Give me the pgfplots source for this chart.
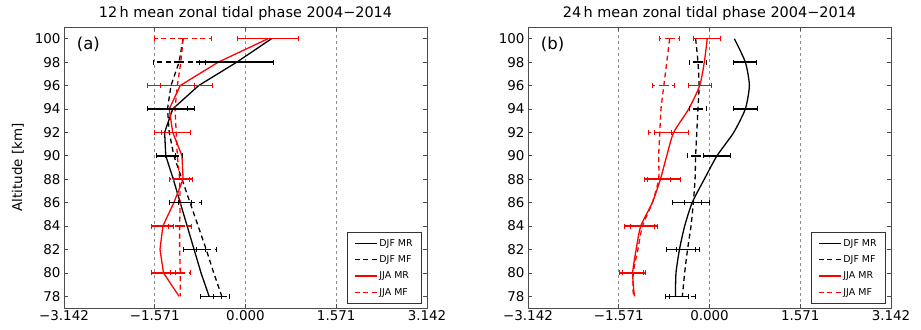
\documentclass[border=0pt]{standalone}
\usepackage{fontspec}
\setmainfont{DejaVu Sans}
\usepackage{pgfplots}
\pgfplotsset{compat=1.18}
\begin{document}
\begin{tikzpicture}
\path[use as bounding box] (0bp,0bp) rectangle (921bp,330bp);
\pgfplotsset{
  myax/.style={
    at={(#1,22bp)}, anchor=south west, scale only axis,
    width=363bp, height=281bp,
    xmin=-3.142, xmax=3.142, ymin=77, ymax=101,
    xtick={-3.142,-1.571,0,1.571,3.142},
    xticklabels={−3.142,−1.571,0.000,1.571,3.142},
    ytick={78,80,...,100},
    /pgf/number format/assume math mode=true,
    tick align=inside, major tick length=4bp,
    tick style={black!70, line width=0.6bp},
    xmajorgrids,
    major grid style={black!45, dash pattern=on 3bp off 3bp, line width=0.7bp},
    tick label style={font=\fontsize{13.5}{14}\selectfont},
    xticklabel style={yshift=1bp},
    axis line style={line width=0.8bp, black!70},
    legend style={at={(1,0)}, anchor=south east, xshift=-5bp, yshift=4bp,
      font=\fontsize{9.5}{10}\selectfont, draw=black!80, line width=0.6bp,
      row sep=4bp, inner xsep=7bp, inner ysep=5bp, cells={anchor=west}},
    legend image code/.code={\draw[##1, line width=1.4bp] (0bp,0bp) -- (22bp,0bp);},
    title style={font=\fontsize{14.5}{15}\selectfont, yshift=-3bp},
  },
  ln/.style={line width=1.3bp},
  dsh/.style={line width=1.3bp, dash pattern=on 5bp off 3.5bp},
  eb/.style={draw=none, forget plot, error bars/.cd, x dir=both, x explicit,
    error bar style={line width=1.5bp, draw=#1, solid},
    error mark options={rotate=90, mark size=2.5bp, line width=1bp, draw=#1, solid}},
  ebd/.style={draw=none, forget plot, error bars/.cd, x dir=both, x explicit,
    error bar style={line width=1.5bp, draw=#1, dash pattern=on 5bp off 3.5bp},
    error mark options={rotate=90, mark size=2.5bp, line width=1bp, draw=#1, solid}},
}
% ---------------- panel (a)
\begin{axis}[myax=64bp, title={12\,h mean zonal tidal phase 2004−2014},
  ylabel={Altitude [km]}, ylabel style={font=\fontsize{13.5}{14}\selectfont, yshift=4bp}]
\addplot[black, ln] coordinates {(0.45,100) (-0.15,98) (-0.81,96) (-1.26,94) (-1.40,92) (-1.38,90) (-1.25,88) (-1.13,86) (-1.01,84) (-0.89,82) (-0.77,80) (-0.63,78)};
\addlegendentry{DJF MR}
\addplot[black, dsh] coordinates {(-1.08,100) (-1.15,98) (-1.29,96) (-1.35,94) (-1.32,92) (-1.24,90) (-1.10,88) (-0.96,86) (-0.82,84) (-0.68,82) (-0.55,80) (-0.41,78)};
\addlegendentry{DJF MF}
\addplot[red, ln] coordinates {(0.39,100) (-0.47,98) (-1.13,96) (-1.32,94) (-1.26,92) (-1.10,90) (-1.08,88) (-1.24,86) (-1.43,84) (-1.48,82) (-1.42,80) (-1.15,78)};
\addlegendentry{JJA MR}
\addplot[red, dsh] coordinates {(-1.08,100) (-1.12,98) (-1.18,96) (-1.22,94) (-1.20,92) (-1.18,90) (-1.14,88) (-1.13,86) (-1.14,84) (-1.14,82) (-1.13,80) (-1.13,78)};
\addlegendentry{JJA MF}
\addplot[eb=black] coordinates {(-0.15,98) +- (0.64,0) (-1.29,94) +- (0.40,0) (-1.38,90) +- (0.16,0) (-1.13,86) +- (0.19,0) (-0.89,82) +- (0.19,0) (-0.60,78) +- (0.18,0)};
\addplot[ebd=black] coordinates {(-1.15,98) +- (0.45,0) (-1.35,94) +- (0.35,0) (-1.24,90) +- (0.15,0) (-0.96,86) +- (0.20,0) (-0.68,82) +- (0.17,0) (-0.41,78) +- (0.14,0)};
\addplot[eb=red] coordinates {(0.39,100) +- (0.53,0) (-1.13,96) +- (0.56,0) (-1.26,92) +- (0.31,0) (-1.08,88) +- (0.17,0) (-1.43,84) +- (0.19,0) (-1.42,80) +- (0.20,0)};
\addplot[ebd=red] coordinates {(-1.08,100) +- (0.50,0) (-1.18,96) +- (0.30,0) (-1.20,92) +- (0.25,0) (-1.14,88) +- (0.17,0) (-1.14,84) +- (0.20,0) (-1.13,80) +- (0.17,0)};
\node[anchor=north west, inner sep=0pt, font=\fontsize{16.5}{17}\selectfont] at (rel axis cs:0.035,0.965) {(a)};
\end{axis}
% ---------------- panel (b)
\begin{axis}[myax=528bp, title={24\,h mean zonal tidal phase 2004−2014}]
\addplot[black, ln, smooth, tension=0.4] coordinates {(0.43,100) (0.62,98) (0.69,96) (0.62,94) (0.42,92) (0.13,90) (-0.09,88) (-0.30,86) (-0.43,84) (-0.52,82) (-0.58,80) (-0.59,78)};
\addlegendentry{DJF MR}
\addplot[black, dsh, smooth, tension=0.4] coordinates {(-0.24,100) (-0.20,98) (-0.18,96) (-0.20,94) (-0.22,92) (-0.24,90) (-0.25,88) (-0.28,86) (-0.32,84) (-0.38,82) (-0.43,80) (-0.47,78)};
\addlegendentry{DJF MF}
\addplot[red, ln, smooth, tension=0.4] coordinates {(-0.04,100) (-0.09,98) (-0.17,96) (-0.36,94) (-0.62,92) (-0.74,90) (-0.85,88) (-0.99,86) (-1.19,84) (-1.27,82) (-1.33,80) (-1.30,78)};
\addlegendentry{JJA MR}
\addplot[red, dsh, smooth, tension=0.4] coordinates {(-0.69,100) (-0.74,98) (-0.79,96) (-0.84,94) (-0.86,92) (-0.88,90) (-0.88,88) (-0.99,86) (-1.16,84) (-1.24,82) (-1.32,80) (-1.32,78)};
\addlegendentry{JJA MF}
\addplot[eb=black] coordinates {(0.62,98) +- (0.20,0) (0.62,94) +- (0.21,0) (0.13,90) +- (0.23,0) (-0.32,86) +- (0.32,0) (-0.50,82) +- (0.25,0) (-0.57,78) +- (0.20,0)};
\addplot[ebd=black] coordinates {(-0.20,98) +- (0.14,0) (-0.20,94) +- (0.15,0) (-0.24,90) +- (0.14,0) (-0.28,86) +- (0.15,0) (-0.38,82) +- (0.20,0) (-0.47,78) +- (0.23,0)};
\addplot[eb=red] coordinates {(-0.04,100) +- (0.23,0) (-0.17,96) +- (0.20,0) (-0.66,92) +- (0.30,0) (-0.82,88) +- (0.31,0) (-1.19,84) +- (0.29,0) (-1.33,80) +- (0.23,0)};
\addplot[ebd=red] coordinates {(-0.69,100) +- (0.17,0) (-0.79,96) +- (0.19,0) (-0.86,92) +- (0.20,0) (-0.88,88) +- (0.20,0) (-1.16,84) +- (0.20,0) (-1.32,80) +- (0.18,0)};
\node[anchor=north west, inner sep=0pt, font=\fontsize{16.5}{17}\selectfont] at (rel axis cs:0.035,0.965) {(b)};
\end{axis}
\end{tikzpicture}
\end{document}
